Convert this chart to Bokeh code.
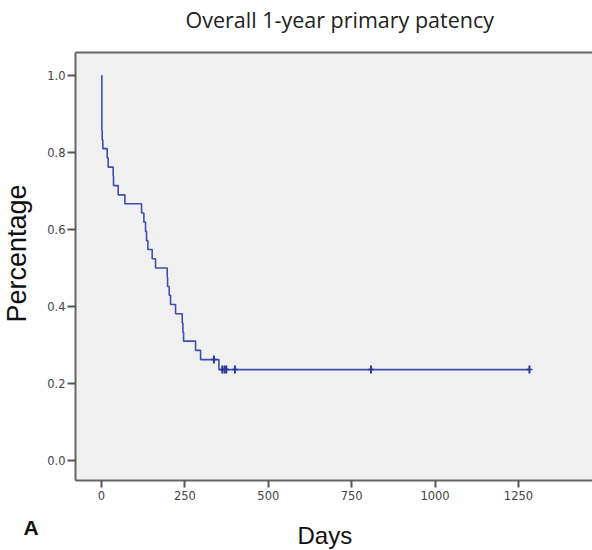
import math
from bokeh.plotting import figure
from bokeh.models import Range1d, FixedTicker, PrintfTickFormatter, Title, LinearAxis, ColumnDataSource
from bokeh.embed import file_html
from bokeh.resources import INLINE

# Kaplan-Meier step points (days, survival proportion)
step_days = [0, 1, 2, 4, 17, 20, 35, 36, 50, 70, 120, 127, 132, 135, 139, 152, 162,
             197, 198, 203, 207, 222, 242, 244, 246, 282, 297, 352, 1283]
step_surv = [1.0, 0.857, 0.833, 0.810, 0.786, 0.762, 0.738, 0.714, 0.690, 0.667, 0.643,
             0.619, 0.595, 0.571, 0.548, 0.524, 0.500, 0.476, 0.452, 0.429, 0.405, 0.381,
             0.357, 0.333, 0.310, 0.286, 0.262, 0.236, 0.236]
# censored observations
cens_days = [337, 362, 369, 374, 400, 808, 1283]
cens_surv = [0.262, 0.236, 0.236, 0.236, 0.236, 0.236, 0.236]

x_ticks = [0, 250, 500, 750, 1000, 1250]
y_ticks = [0.0, 0.2, 0.4, 0.6, 0.8, 1.0]

title_text = "Overall 1-year primary patency"
x_label = "Days"
y_label = "Percentage"
panel_label = "A"

W, H = 592, 550
p = figure(width=W, height=H, output_backend="svg", toolbar_location=None,
           x_range=Range1d(-78, 1472), y_range=Range1d(-0.052, 1.0597),
           min_border_left=75, min_border_top=52, min_border_bottom=70, min_border_right=0)
p.background_fill_color = "#F0F0F0"
p.border_fill_color = "white"
p.outline_line_color = None
p.xgrid.visible = False
p.ygrid.visible = False

axis_col = "#666666"
for ax in (p.xaxis[0], p.yaxis[0]):
    ax.axis_line_color = axis_col
    ax.axis_line_width = 2
    ax.major_tick_line_color = "#555555"
    ax.major_tick_line_width = 2
    ax.major_tick_in = 0
    ax.minor_tick_line_color = None
    ax.major_label_text_font = "DejaVu Sans"
    ax.major_label_text_font_size = "11.5px"
    ax.major_label_text_color = "#444444"

p.xaxis.ticker = FixedTicker(ticks=x_ticks)
p.yaxis.ticker = FixedTicker(ticks=y_ticks)
p.yaxis.formatter = PrintfTickFormatter(format="%.1f")
p.xaxis.major_tick_out = 7
p.yaxis.major_tick_out = 8
p.xaxis.major_label_standoff = 3
p.yaxis.major_label_standoff = 2

# top border line (no right border, as in the cropped reference)
top_axis = LinearAxis(ticker=FixedTicker(ticks=[]), axis_line_color=axis_col, axis_line_width=2,
                      major_tick_line_color=None, minor_tick_line_color=None)
p.add_layout(top_axis, "above")
p.add_layout(Title(text=" ", text_font_size="1px", standoff=16), "above")
p.add_layout(Title(text=title_text, align="left", offset=110, vertical_align="bottom", standoff=0,
                   text_font="Open Sans", text_font_size="21.5px", text_font_style="normal",
                   text_color="#222222"), "above")

# y label as a left-side title
p.add_layout(Title(text=" ", text_font_size="1px", standoff=8), "left")
p.add_layout(Title(text=y_label, align="left", offset=158, vertical_align="top", standoff=0,
                   text_font="Liberation Sans", text_font_size="27px", text_font_style="normal",
                   text_color="#111111"), "left")

# x label and panel letter
p.add_layout(Title(text=" ", text_font_size="1px", standoff=14), "below")
p.add_layout(Title(text=x_label, align="left", offset=222, vertical_align="bottom", standoff=0,
                   text_font="Liberation Sans", text_font_size="24px", text_font_style="normal",
                   text_color="#111111"), "below")
p.add_layout(Title(text=panel_label, align="left", offset=-52, vertical_align="top", standoff=-66,
                   text_font="Liberation Sans", text_font_size="21px", text_font_style="bold",
                   text_color="#111111"), "below")

line_col = "#3D4FB0"
src = ColumnDataSource(dict(x=step_days, y=step_surv))
p.step("x", "y", source=src, mode="after", line_color=line_col, line_width=1.6)
p.scatter(cens_days, cens_surv, marker="dash", angle=math.pi / 2, size=8,
          line_color="#2A3A98", line_width=2)
p.scatter(cens_days, cens_surv, marker="dash", size=6,
          line_color="#2A3A98", line_width=1.5)

open("out.html", "w").write(file_html(p, INLINE))
